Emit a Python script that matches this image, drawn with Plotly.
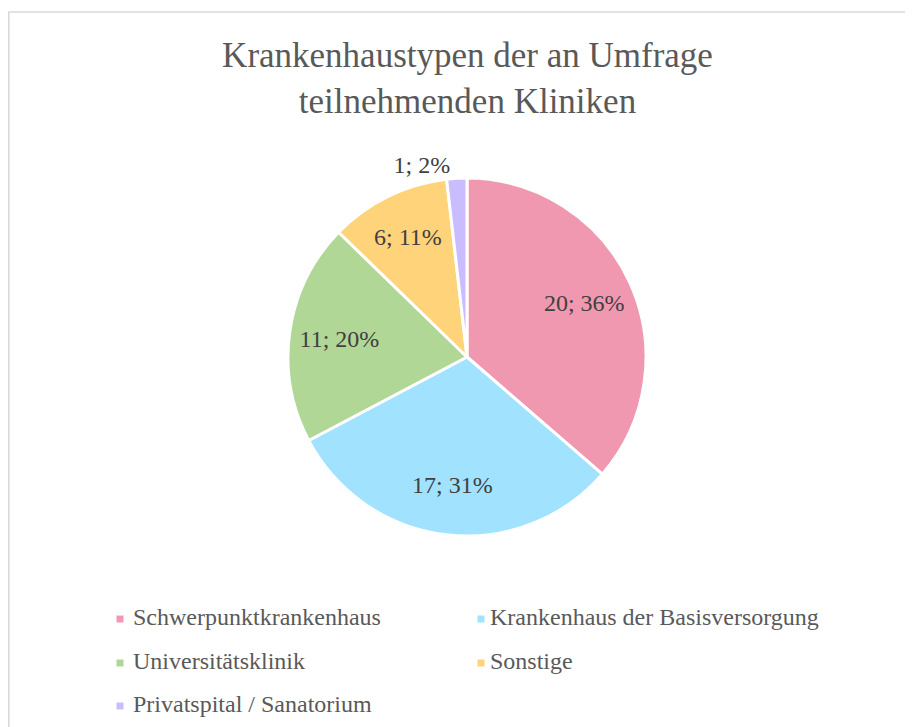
import plotly.graph_objects as go

categories = ["Schwerpunktkrankenhaus", "Krankenhaus der Basisversorgung",
              "Universitätsklinik", "Sonstige", "Privatspital / Sanatorium"]
values = [20, 17, 11, 6, 1]
colors = ["#F098B0", "#A0E2FF", "#B1D797", "#FFD37A", "#C9BDFF"]
text_positions = ["inside", "inside", "inside", "inside", "outside"]

SERIF = "Liberation Serif, Times New Roman, serif"
W, H = 913, 727
cx, cy, r = 459, 349, 179          # pie centre / radius in figure pixels
domain = dict(x=[(cx - r) / W, (cx + r) / W], y=[(H - cy - r) / H, (H - cy + r) / H])

fig = go.Figure()
# coloured slices
fig.add_trace(go.Pie(
    labels=categories, values=values, sort=False, direction="clockwise", rotation=0,
    marker=dict(colors=colors, line=dict(color="white", width=3)),
    textinfo="none", hoverinfo="label+value+percent",
    domain=domain, showlegend=False,
))
# transparent ring carrying the data labels (places them further out, like Excel)
fig.add_trace(go.Pie(
    labels=categories, values=values, sort=False, direction="clockwise", rotation=0,
    hole=0.44,
    marker=dict(colors=["rgba(0,0,0,0)"] * len(values), line=dict(width=0)),
    texttemplate="%{value}; %{percent:.0%}",
    textposition=text_positions,
    insidetextorientation="horizontal",
    textfont=dict(family=SERIF, size=24, color="#404040"),
    hoverinfo="skip",
    domain=domain, showlegend=False,
))

# legend (two columns, Excel style)
col_text_x = [123, 480]
col_mark_x = [112, 473]
row_y = [609, 653, 696]
annotations = []
shapes = []
for i, (cat, col) in enumerate(zip(categories, colors)):
    c, rw = i % 2, i // 2
    annotations.append(dict(
        text=cat, xref="paper", yref="paper",
        x=col_text_x[c] / W, y=1 - row_y[rw] / H, xanchor="left", yanchor="middle",
        showarrow=False, font=dict(family=SERIF, size=24, color="#595959"),
    ))
    my = row_y[rw] + 2
    shapes.append(dict(
        type="rect", xref="paper", yref="paper", line=dict(width=0), fillcolor=col,
        x0=(col_mark_x[c] - 3.5) / W, x1=(col_mark_x[c] + 3.5) / W,
        y0=1 - (my + 3.5) / H, y1=1 - (my - 3.5) / H,
    ))

# chart border
shapes.append(dict(type="rect", xref="paper", yref="paper",
                   x0=0.8 / W, x1=1.05, y0=-0.05, y1=1 - 4 / H,
                   line=dict(color="#D9D9D9", width=1.6)))

fig.update_layout(
    width=W, height=H,
    margin=dict(l=0, r=0, t=0, b=0),
    paper_bgcolor="white",
    title=dict(
        text="Krankenhaustypen der an Umfrage<br>teilnehmenden Kliniken",
        x=459.5 / W, xanchor="center", yref="container", y=1 - 59 / H, yanchor="top",
        font=dict(family=SERIF, size=35, color="#595959"),
    ),
    annotations=annotations,
    shapes=shapes,
    showlegend=False,
)

fig.write_html("out.html")
